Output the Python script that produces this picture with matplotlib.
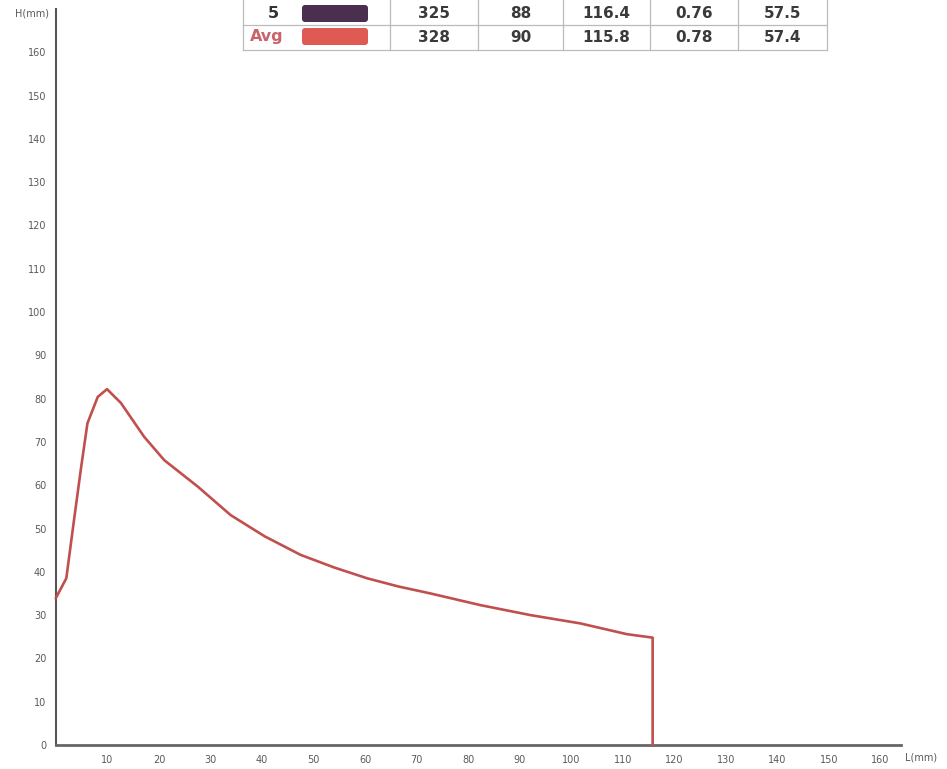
import matplotlib
matplotlib.use("Agg")
import matplotlib.pyplot as plt
from matplotlib.patches import FancyBboxPatch

# Average profile: length L (mm) vs height H (mm)
length_mm = [0, 2, 3.5, 4.8, 6.1, 8.1, 9.9, 12.6, 17.1, 21, 27.5, 33.9, 40.5,
             47.5, 54, 60.4, 66.5, 72.7, 82.4, 92.1, 101.7, 110.8, 115.8, 115.8]
height_mm = [34, 38.5, 52, 63.5, 74.3, 80.4, 82.2, 79, 71.2, 65.8, 59.7, 53.1, 48.2,
             43.9, 41, 38.5, 36.6, 35, 32.3, 30, 28.1, 25.6, 24.8, 0]

x_ticks = list(range(10, 161, 10))
y_ticks = list(range(0, 161, 10))

# Summary table rows
row_labels = ["5", "Avg"]
row_colors = ["#4b2f4f", "#de5a52"]
row_label_colors = ["#333333", "#c8646a"]
row_values = [["325", "88", "116.4", "0.76", "57.5"],
              ["328", "90", "115.8", "0.78", "57.4"]]

W, H = 947, 769
fig = plt.figure(figsize=(W / 100, H / 100), dpi=100)
fig.patch.set_facecolor("white")

ax = fig.add_axes([56 / W, (H - 745) / H, 845 / W, 736 / H])
ax.plot(length_mm, height_mm, color="#c0504d", lw=1.9, solid_joinstyle="round",
        clip_on=False, zorder=3)
ax.set_xlim(0, 164)
ax.set_ylim(0, 170)
ax.set_xticks(x_ticks)
ax.set_yticks(y_ticks)
ax.tick_params(length=0, labelsize=7, labelcolor="#5a5a5a", pad=7)
for lab in ax.get_xticklabels() + ax.get_yticklabels():
    lab.set_family("DejaVu Sans")
ax.spines["top"].set_visible(False)
ax.spines["right"].set_visible(False)
ax.spines["left"].set_color("#555555")
ax.spines["left"].set_linewidth(1.5)
ax.spines["bottom"].set_color("#666666")
ax.spines["bottom"].set_linewidth(2.0)
ax.set_facecolor("white")

# Overlay in pixel units for axis titles and the table
ov = fig.add_axes([0, 0, 1, 1], facecolor="none")
ov.set_xlim(0, W)
ov.set_ylim(H, 0)
ov.axis("off")

ov.text(32, 14, "H(mm)", ha="center", va="center", fontsize=7,
        color="#5a5a5a", family="DejaVu Sans")
ov.text(921, 757, "L(mm)", ha="center", va="center", fontsize=7,
        color="#5a5a5a", family="DejaVu Sans")

col_edges = [243, 390, 478, 563, 650, 738, 827]
row_tops = [2, 25]
row_h = 24
grid_kw = dict(color="#bbbbbb", lw=0.9)
for xe in col_edges:
    ov.plot([xe, xe], [0, 50], **grid_kw)
for yl in [25, 50]:
    ov.plot([col_edges[0], col_edges[-1]], [yl, yl], **grid_kw)

label_x = [273, 267]
for i, top in enumerate(row_tops):
    yc = top + row_h / 2
    ov.text(label_x[i], yc, row_labels[i], ha="center", va="center", fontsize=11.5,
            fontweight="bold", color=row_label_colors[i], family="DejaVu Sans")
    ov.add_patch(FancyBboxPatch((302, top + 3), 66, row_h - 7,
                                boxstyle="round,pad=0,rounding_size=3",
                                fc=row_colors[i], ec="none"))
    for j, val in enumerate(row_values[i]):
        xc = (col_edges[j + 1] + col_edges[j + 2]) / 2
        ov.text(xc, yc, val, ha="center", va="center", fontsize=11,
                fontweight="bold", color="#3a3a3a", family="DejaVu Sans")

fig.savefig("out.png", dpi=100, facecolor="white")
